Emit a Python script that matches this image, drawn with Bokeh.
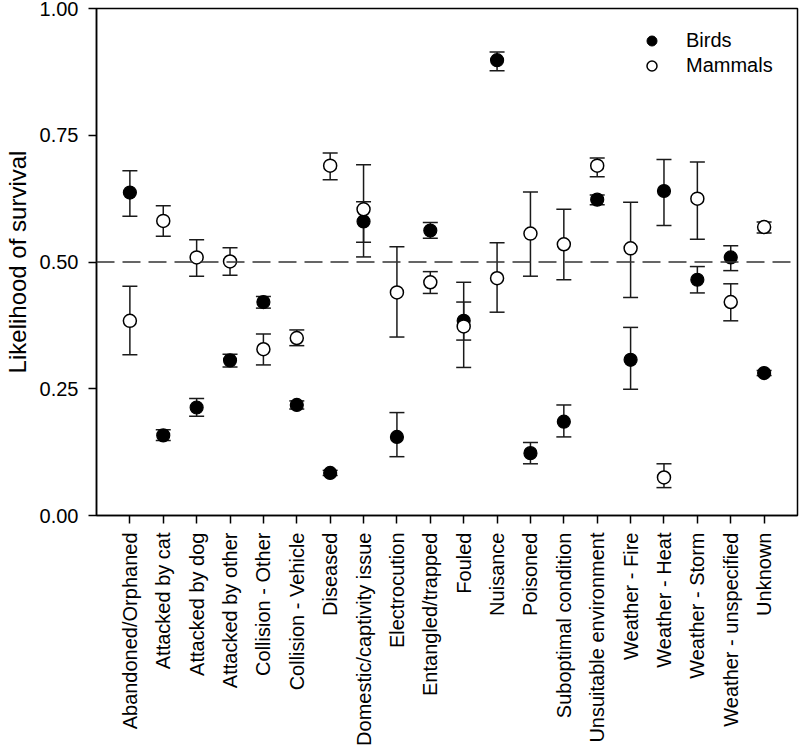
import math
from bokeh.plotting import figure
from bokeh.models import (ColumnDataSource, FactorRange, Span, Whisker, TeeHead,
                          Legend, LegendItem)
from bokeh.embed import file_html
from bokeh.resources import INLINE

categories = ["Abandoned/Orphaned", "Attacked by cat", "Attacked by dog", "Attacked by other",
              "Collision - Other", "Collision - Vehicle", "Diseased", "Domestic/captivity issue",
              "Electrocution", "Entangled/trapped", "Fouled", "Nuisance", "Poisoned",
              "Suboptimal condition", "Unsuitable environment", "Weather - Fire",
              "Weather - Heat", "Weather - Storm", "Weather - unspecified", "Unknown"]

birds_mean = [0.637, 0.158, 0.213, 0.306, 0.421, 0.218, 0.084, 0.580, 0.155, 0.562,
              0.384, 0.898, 0.123, 0.185, 0.623, 0.307, 0.640, 0.465, 0.509, 0.281]
birds_upper = [0.680, 0.169, 0.231, 0.318, 0.432, 0.226, 0.089, 0.619, 0.203, 0.578,
               0.421, 0.914, 0.144, 0.218, 0.632, 0.371, 0.702, 0.491, 0.532, 0.286]
birds_lower = [0.590, 0.148, 0.196, 0.293, 0.409, 0.210, 0.079, 0.539, 0.116, 0.547,
               0.346, 0.877, 0.102, 0.155, 0.613, 0.249, 0.572, 0.439, 0.483, 0.276]

mammals_mean = [0.384, 0.581, 0.509, 0.501, 0.328, 0.350, 0.690, 0.604, 0.440, 0.460,
                0.373, 0.468, 0.556, 0.535, 0.690, 0.527, 0.075, 0.625, 0.421, 0.569]
mammals_upper = [0.452, 0.611, 0.544, 0.528, 0.358, 0.366, 0.715, 0.692, 0.530, 0.481,
                 0.460, 0.538, 0.638, 0.604, 0.705, 0.618, 0.102, 0.697, 0.457, 0.579]
mammals_lower = [0.317, 0.551, 0.472, 0.474, 0.297, 0.335, 0.662, 0.510, 0.352, 0.438,
                 0.292, 0.401, 0.472, 0.465, 0.668, 0.430, 0.055, 0.545, 0.384, 0.557]

y_ticks = [0.0, 0.25, 0.5, 0.75, 1.0]
y_tick_labels = ["0.00", "0.25", "0.50", "0.75", "1.00"]
reference_line = 0.5

FONT = "Liberation Sans"

bsrc = ColumnDataSource(dict(x=categories, y=birds_mean, up=birds_upper, lo=birds_lower))
msrc = ColumnDataSource(dict(x=categories, y=mammals_mean, up=mammals_upper, lo=mammals_lower))

p = figure(x_range=FactorRange(factors=categories, range_padding=0.05),
           y_range=(0, 1.0), width=800, height=748,
           min_border_left=96, min_border_right=3, min_border_top=8, min_border_bottom=232,
           output_backend="svg", toolbar_location=None)

p.xgrid.visible = False
p.ygrid.visible = False
p.outline_line_color = "black"
p.outline_line_width = 1.5
p.outline_line_alpha = 1.0

# axes
for ax in (p.xaxis[0], p.yaxis[0]):
    ax.axis_line_width = 1.5
    ax.axis_line_color = "black"
    ax.major_tick_line_width = 1.5
    ax.major_tick_line_color = "black"
    ax.major_tick_in = 0
    ax.major_tick_out = 8
    ax.minor_tick_line_color = None
    ax.major_label_text_font = FONT
    ax.major_label_text_color = "black"
    ax.major_label_text_font_size = "20px"

p.xaxis.major_label_orientation = math.pi / 2
p.xaxis.major_label_standoff = 9

p.yaxis.ticker = y_ticks
p.yaxis.major_label_overrides = {t: l for t, l in zip(y_ticks, y_tick_labels)}
p.yaxis.major_label_standoff = 10
p.yaxis.axis_label = "Likelihood of survival"
p.yaxis.axis_label_text_font = FONT
p.yaxis.axis_label_text_font_style = "normal"
p.yaxis.axis_label_text_font_size = "24px"
p.yaxis.axis_label_standoff = 6
p.yaxis.axis_label_text_color = "black"

# dashed reference line
p.add_layout(Span(location=reference_line, dimension="width", line_color="#333333",
                  line_width=1.3, line_dash="18 8"))

# error bars
for src in (bsrc, msrc):
    w = Whisker(source=src, base="x", upper="up", lower="lo", dimension="height",
                line_color="#1a1a1a", line_width=1.5,
                upper_head=TeeHead(size=15, line_width=1.5, line_color="#1a1a1a"),
                lower_head=TeeHead(size=15, line_width=1.5, line_color="#1a1a1a"))
    p.add_layout(w)

rb = p.scatter("x", "y", source=bsrc, size=13, fill_color="black", line_color="black",
               line_width=1.2)
rm = p.scatter("x", "y", source=msrc, size=13, fill_color="white", line_color="black",
               line_width=1.5)

# legend proxies (drawn only in legend)
lb = p.scatter(x=[categories[0]], y=[-10], size=13, fill_color="black", line_color="black")
lm = p.scatter(x=[categories[0]], y=[-10], size=10, fill_color="white", line_color="black",
               line_width=1.5)

legend = Legend(items=[LegendItem(label="Birds", renderers=[lb]),
                       LegendItem(label="Mammals", renderers=[lm])],
                location="top_right", orientation="vertical",
                label_text_font=FONT, label_text_font_size="20px",
                label_text_color="black",
                glyph_width=25, glyph_height=25, label_height=25, label_width=91,
                label_standoff=22, spacing=0, padding=0, margin=20,
                background_fill_alpha=0, border_line_color=None)
p.add_layout(legend)

open("out.html", "w").write(file_html(p, INLINE))
